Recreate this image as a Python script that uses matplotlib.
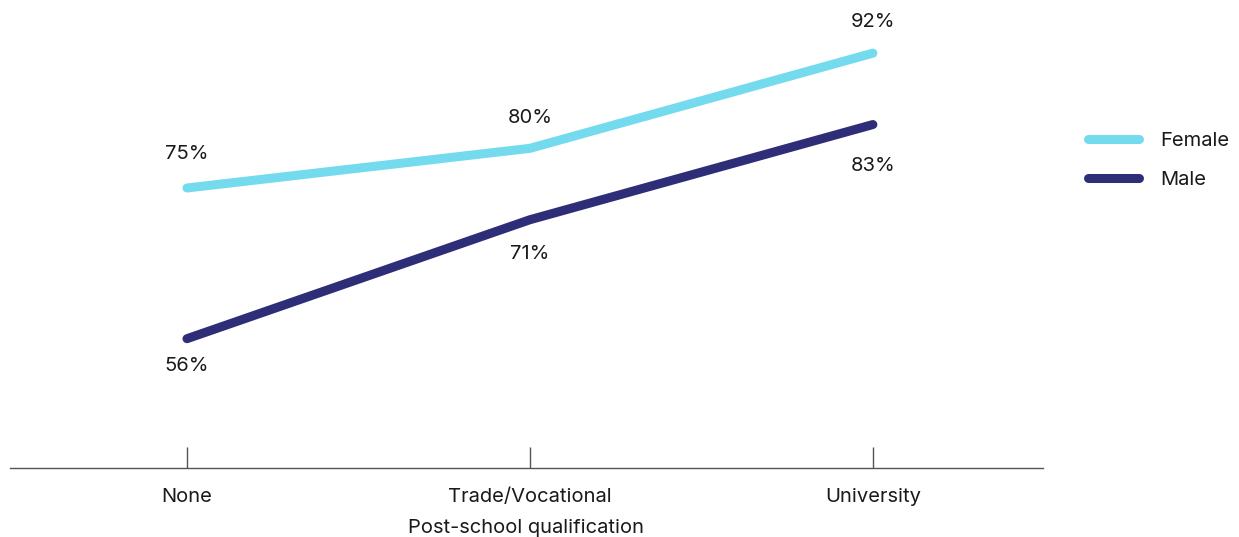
import matplotlib
matplotlib.use("Agg")
import matplotlib.pyplot as plt

categories = ["None", "Trade/Vocational", "University"]
female = [75, 80, 92]
male = [56, 71, 83]
series_names = ["Female", "Male"]
x_title = "Post-school qualification"

FEMALE_COLOR = "#74DBEF"
MALE_COLOR = "#2E2E78"
TEXT_COLOR = "#1a1a1a"
FONT = ["Inter", "DejaVu Sans"]
FS = 14.5

plt.rcParams["font.family"] = FONT

fig = plt.figure(figsize=(12.39, 5.37), dpi=100)
ax = fig.add_axes([10 / 1239, (537 - 468) / 537, (1043 - 10) / 1239, 468 / 537])

xs = list(range(len(categories)))
ax.plot(xs, female, color=FEMALE_COLOR, lw=6.5, solid_capstyle="round",
        solid_joinstyle="miter", label=series_names[0])
ax.plot(xs, male, color=MALE_COLOR, lw=6.5, solid_capstyle="round",
        solid_joinstyle="miter", label=series_names[1])

# value labels: female above the line, male below (offsets in points)
female_offsets = [24.5, 21.6, 22.3]
male_offsets = [-20, -25, -30]
for x, v, off in zip(xs, female, female_offsets):
    ax.annotate(f"{v}%", (x, v), xytext=(0, off), textcoords="offset points",
                ha="center", va="center", fontsize=FS, color=TEXT_COLOR)
for x, v, off in zip(xs, male, male_offsets):
    ax.annotate(f"{v}%", (x, v), xytext=(0, off), textcoords="offset points",
                ha="center", va="center", fontsize=FS, color=TEXT_COLOR)

ax.set_xlim(-0.516, 2.496)
ax.set_ylim(39.7, 98.7)

for s in ["top", "right", "left"]:
    ax.spines[s].set_visible(False)
ax.spines["bottom"].set_color("#555555")
ax.spines["bottom"].set_linewidth(1.0)

ax.set_yticks([])
ax.set_xticks(xs)
ax.set_xticklabels(categories, fontsize=FS, color=TEXT_COLOR)
ax.tick_params(axis="x", direction="in", length=15, width=1.0, color="#555555", pad=14.5)
ax.set_xlabel(x_title, fontsize=FS, color=TEXT_COLOR, labelpad=9)

leg = fig.legend(loc="upper left", bbox_to_anchor=(1079.5 / 1239, 1 - 124 / 537),
                 frameon=False, fontsize=FS, handlelength=2.54, handletextpad=1.09,
                 labelspacing=1.04, borderaxespad=0)
for t in leg.get_texts():
    t.set_color(TEXT_COLOR)

fig.savefig("out.png", dpi=100)
